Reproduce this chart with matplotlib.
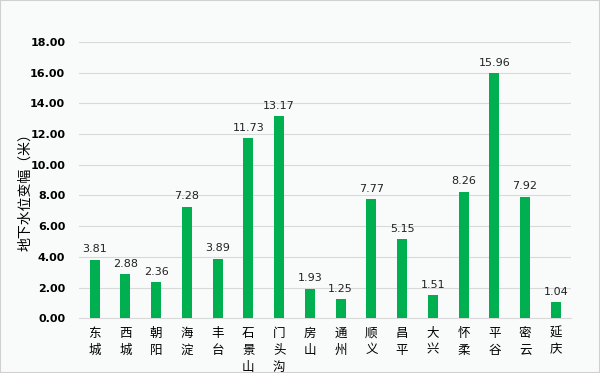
import matplotlib
matplotlib.use("Agg")
import matplotlib.pyplot as plt
from matplotlib.patches import Rectangle

plt.rcParams['font.family'] = ['Noto Sans CJK SC', 'DejaVu Sans']

districts = ["东城", "西城", "朝阳", "海淀", "丰台", "石景山", "门头沟", "房山", "通州",
             "顺义", "昌平", "大兴", "怀柔", "平谷", "密云", "延庆"]
values = [3.81, 2.88, 2.36, 7.28, 3.89, 11.73, 13.17, 1.93, 1.25,
          7.77, 5.15, 1.51, 8.26, 15.96, 7.92, 1.04]
yticks = [0, 2, 4, 6, 8, 10, 12, 14, 16, 18]
ylabel = "地下水位变幅（米）"

bg = "#f9fafa"
fig = plt.figure(figsize=(6, 3.73), dpi=100, facecolor=bg)
ax = fig.add_axes([0.132, 0.147, 0.82, 0.74], facecolor=bg)

x = list(range(len(districts)))
ax.bar(x, values, width=0.33, color="#00b050", zorder=3)
for xi, v in zip(x, values):
    ax.text(xi, v + 0.35, f"{v:.2f}", ha="center", va="bottom", fontsize=8,
            family=["DejaVu Sans"], color="#222222")

ax.set_xlim(-0.5, len(districts) - 0.5)
ax.set_ylim(0, 18)
ax.set_yticks(yticks)
ax.set_yticklabels([f"{t:.2f}" for t in yticks], fontsize=8, fontweight="bold",
                   family=["DejaVu Sans"])
ax.yaxis.grid(True, color="#d9d9d9", linewidth=0.8, zorder=0)
ax.tick_params(axis="y", length=0, pad=10)
ax.tick_params(axis="x", length=0, pad=6)
ax.set_xticks(x)
ax.set_xticklabels(["\n".join(d) for d in districts], fontsize=9, linespacing=1.4,
                   va="top")
for s in ["top", "right", "left"]:
    ax.spines[s].set_visible(False)
ax.spines["bottom"].set_color("#d9d9d9")
ax.set_ylabel(ylabel, fontsize=10)
ax.yaxis.set_label_coords(-0.095, 0.47)

fig.patches.append(Rectangle((0, 0), 1, 1, transform=fig.transFigure, fill=False,
                             edgecolor="#d0d0d0", linewidth=1.5))
fig.savefig("out.png", dpi=100, facecolor=bg)
